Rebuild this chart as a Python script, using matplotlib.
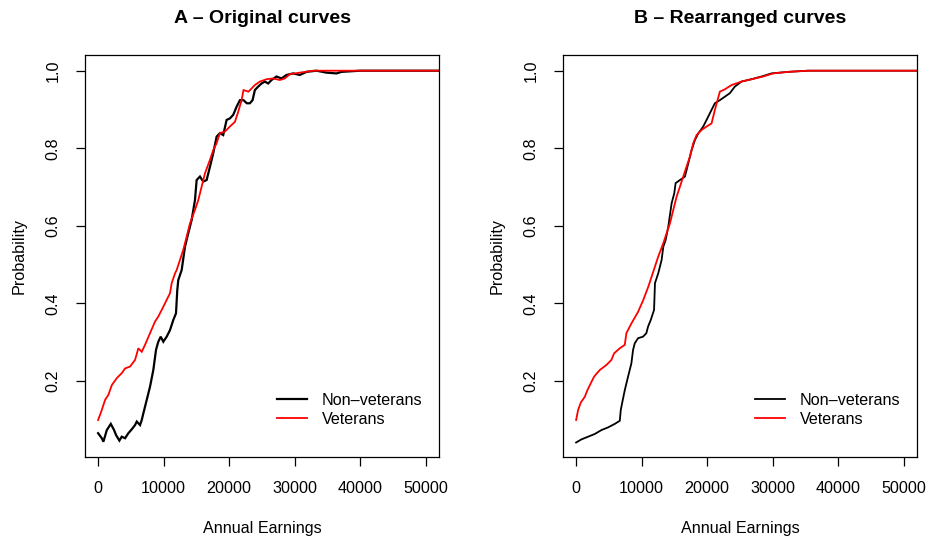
import matplotlib
matplotlib.use("Agg")
import matplotlib.pyplot as plt

plt.rcParams['font.family'] = ['Liberation Sans', 'DejaVu Sans']

# ---------------- Panel A: original curves ----------------
a_nonvet_x = [0, 564, 807, 1325, 1934, 2437, 2741, 3244, 3609, 4112, 4615, 5132, 5635, 5894,
              6397, 6655, 6899, 7417, 7920, 8422, 8833, 9184, 9549, 9945, 10463, 10966, 11468,
              11879, 12077, 12230, 12748, 13250, 13753, 14270, 14773, 15032, 15535, 16037,
              16555, 17058, 17560, 18078, 18581, 19083, 19601, 20104, 20606, 21124, 21627,
              22177, 22686, 23150, 23561, 23911, 24414, 24931, 25434, 25937, 26454, 27216,
              27977, 28739, 29744, 30765, 31785, 33308, 34831, 36354, 37116, 40000, 55000]
a_nonvet_y = [0.065, 0.052, 0.043, 0.073, 0.089, 0.073, 0.060, 0.046, 0.056, 0.052, 0.065,
              0.075, 0.086, 0.095, 0.086, 0.099, 0.116, 0.151, 0.185, 0.228, 0.280, 0.301,
              0.314, 0.301, 0.314, 0.331, 0.357, 0.374, 0.434, 0.460, 0.486, 0.546, 0.581,
              0.615, 0.666, 0.718, 0.727, 0.714, 0.718, 0.752, 0.787, 0.830, 0.839, 0.834,
              0.873, 0.877, 0.886, 0.907, 0.924, 0.924, 0.916, 0.916, 0.924, 0.950, 0.959,
              0.967, 0.972, 0.967, 0.976, 0.985, 0.980, 0.989, 0.993, 0.989, 0.997, 1.000,
              0.995, 0.993, 0.997, 1.000, 1.000]

a_vet_x = [0, 564, 1066, 1569, 2087, 2848, 3609, 4112, 4874, 5635, 6138, 6655, 7158, 7920,
           8681, 9184, 9702, 10463, 10966, 11224, 11727, 11986, 12991, 13509, 14012, 14773,
           15276, 15793, 16296, 17058, 17560, 18078, 18581, 19342, 20104, 20865, 21368,
           21886, 22177, 22940, 23911, 24675, 25693, 26698, 27719, 28480, 29241, 30765,
           32790, 55000]
a_vet_y = [0.099, 0.125, 0.151, 0.164, 0.189, 0.207, 0.220, 0.232, 0.237, 0.254, 0.284,
           0.275, 0.293, 0.323, 0.353, 0.366, 0.383, 0.409, 0.426, 0.452, 0.477, 0.486,
           0.538, 0.572, 0.606, 0.641, 0.666, 0.701, 0.735, 0.770, 0.795, 0.813, 0.839,
           0.843, 0.856, 0.868, 0.894, 0.924, 0.950, 0.946, 0.963, 0.972, 0.978, 0.980,
           0.976, 0.980, 0.991, 0.995, 1.000, 1.000]

# ---------------- Panel B: rearranged curves ----------------
b_nonvet_x = [0, 808, 1829, 2851, 3857, 4878, 5899, 6662, 6814, 7012, 7424, 7927, 8430,
              8689, 8948, 9451, 10213, 10716, 10976, 11387, 11890, 12030, 12538, 13046,
              13299, 13655, 14061, 14569, 14975, 15178, 15838, 16599, 17107, 17614, 18122,
              18629, 19391, 19898, 20660, 21168, 21929, 22690, 23452, 24213, 25228, 26751,
              28274, 29797, 32335, 35381, 55000]
b_nonvet_y = [0.041, 0.049, 0.056, 0.063, 0.073, 0.080, 0.089, 0.097, 0.125, 0.142, 0.176,
              0.211, 0.245, 0.280, 0.297, 0.310, 0.314, 0.323, 0.340, 0.357, 0.383, 0.452,
              0.478, 0.512, 0.546, 0.563, 0.598, 0.658, 0.684, 0.710, 0.718, 0.727, 0.761,
              0.795, 0.821, 0.838, 0.856, 0.873, 0.899, 0.916, 0.924, 0.933, 0.942, 0.959,
              0.972, 0.978, 0.985, 0.993, 0.997, 1.000, 1.000]

b_vet_x = [0, 305, 716, 1326, 1722, 2241, 2744, 3613, 4619, 5381, 5793, 6662, 7424, 7668,
           8430, 9451, 10254, 11015, 11523, 12030, 12538, 13299, 13807, 14315, 14822, 15330,
           15838, 16345, 16853, 17360, 17868, 18376, 19137, 19898, 20660, 21168, 21929,
           22690, 23706, 25228, 27259, 28528, 30051, 32335, 35381, 55000]
b_vet_y = [0.099, 0.125, 0.144, 0.159, 0.176, 0.194, 0.211, 0.228, 0.241, 0.254, 0.271,
           0.284, 0.293, 0.323, 0.348, 0.378, 0.409, 0.443, 0.469, 0.495, 0.521, 0.555,
           0.581, 0.606, 0.641, 0.675, 0.701, 0.727, 0.753, 0.778, 0.813, 0.834, 0.847,
           0.856, 0.864, 0.899, 0.946, 0.952, 0.963, 0.972, 0.980, 0.985, 0.993, 0.997,
           1.000, 1.000]

titles = ["A \u2013 Original curves", "B \u2013 Rearranged curves"]
legend_labels = ["Non\u2013veterans", "Veterans"]
x_ticks = [0, 10000, 20000, 30000, 40000, 50000]
y_ticks = [0.2, 0.4, 0.6, 0.8, 1.0]

W, H = 936, 542
FS = 11.6
fig = plt.figure(figsize=(W / 100, H / 100), dpi=100)

panels = [
    (85, titles[0], (a_nonvet_x, a_nonvet_y), (a_vet_x, a_vet_y), 1.6),
    (563, titles[1], (b_nonvet_x, b_nonvet_y), (b_vet_x, b_vet_y), 1.3),
]

for left_px, title, (nx, ny), (vx, vy), lwb in panels:
    ax = fig.add_axes([left_px / W, (H - 457) / H, 354 / W, 402 / H])
    ax.plot(nx, ny, color='black', lw=lwb, solid_joinstyle='miter')
    ax.plot(vx, vy, color='#ff0000', lw=1.3, solid_joinstyle='miter')
    ax.set_xlim(-2000, 52000)
    ax.set_ylim(0.0036, 1.0405)
    ax.set_xticks(x_ticks)
    ax.set_xticklabels([str(t) for t in x_ticks])
    ax.set_yticks(y_ticks)
    ax.set_yticklabels(["%.1f" % t for t in y_ticks], rotation=90, va='center')
    ax.tick_params(axis='both', direction='out', length=6.5, width=0.9,
                   labelsize=FS, pad=11)
    for s in ax.spines.values():
        s.set_linewidth(0.9)
    ax.set_xlabel("Annual Earnings", fontsize=FS, labelpad=18)
    ax.set_ylabel("Probability", fontsize=FS, labelpad=14)
    ax.set_title(title, fontsize=14, fontweight='bold', pad=23)
    ax.legend(legend_labels, loc='upper left', bbox_to_anchor=(0.542, 0.160),
              frameon=False, fontsize=FS, handlelength=1.9, handletextpad=0.9,
              borderpad=0, borderaxespad=0, labelspacing=0.26)

fig.savefig("out.png", dpi=100)
